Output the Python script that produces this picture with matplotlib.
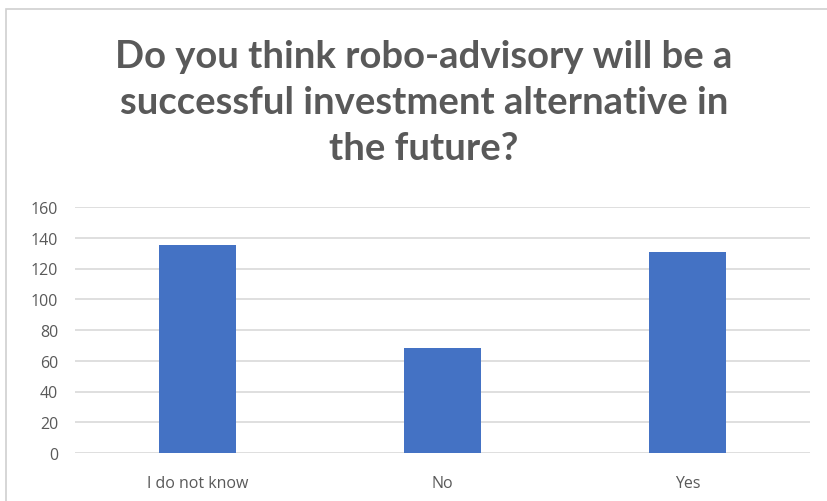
import matplotlib
matplotlib.use('Agg')
import matplotlib.pyplot as plt
from matplotlib.patches import Rectangle

# survey answers and counts
answers = ["I do not know", "No", "Yes"]
counts = [135, 68, 131]
y_ticks = [0, 20, 40, 60, 80, 100, 120, 140, 160]

title = "Do you think robo-advisory will be a\nsuccessful investment alternative in\nthe future?"

grey_text = "#595959"
bar_blue = "#4472C4"
grid_grey = "#D9D9D9"

fig = plt.figure(figsize=(8.27, 5.02), dpi=100)
fig.patch.set_facecolor("white")

# thin chart-area border
fig.patches.append(Rectangle((6 / 827, -0.01), 1.0, 1 - 10 / 502 + 0.01,
                             transform=fig.transFigure, fill=False,
                             edgecolor="#D0D0D0", linewidth=1.2))

ax = fig.add_axes([75 / 827, 48 / 502, (810 - 75) / 827, (454 - 208) / 502])
x = range(len(answers))
ax.bar(x, counts, width=0.315, color=bar_blue, zorder=3)

ax.set_xlim(-0.5, len(answers) - 0.5)
ax.set_ylim(0, 160)
ax.set_yticks(y_ticks)
ax.set_xticks(list(x))
ax.set_xticklabels(answers)
ax.yaxis.grid(True, color=grid_grey, linewidth=1.2, zorder=0)
for s in ax.spines.values():
    s.set_visible(False)
ax.tick_params(axis="both", length=0, labelsize=11.5, labelcolor=grey_text,
               labelfontfamily="Open Sans")
ax.tick_params(axis="y", pad=12)
ax.tick_params(axis="x", pad=16)

fig.text(424 / 827, 1 - 103 / 502, title, ha="center", va="center",
         fontsize=27.5, fontweight="bold", color=grey_text,
         family="Lato", linespacing=1.42)

fig.savefig("out.png", dpi=100)
